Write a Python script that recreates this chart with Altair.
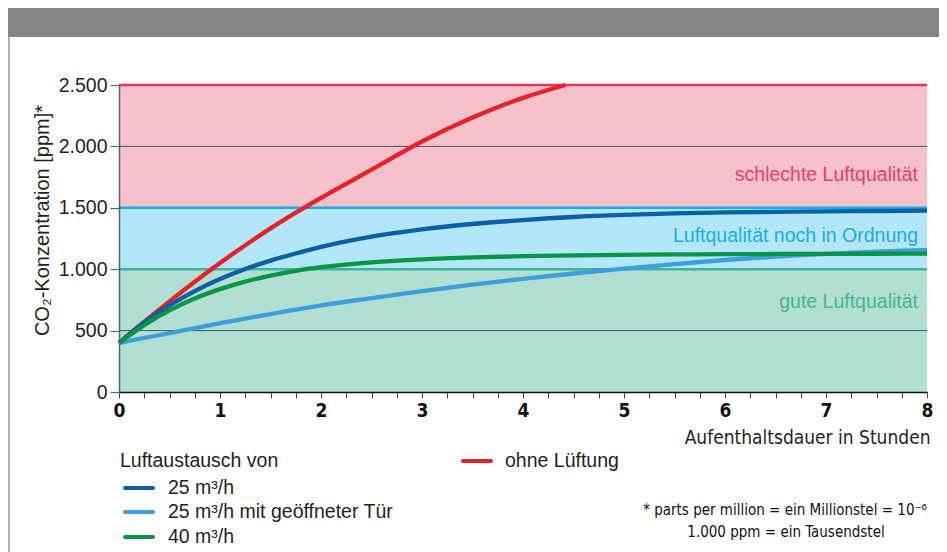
import altair as alt
import pandas as pd

# ---------------- data ----------------
hours = [0, 0.25, 0.5, 0.75, 1, 1.25, 1.5, 1.75, 2, 2.5, 3, 3.5, 4, 4.5, 5, 5.5, 6, 6.5, 7, 7.5, 8]
co2_25 = [400, 566, 705, 822, 920, 1002, 1070, 1128, 1182, 1266, 1325, 1368, 1400, 1425, 1442, 1454, 1462, 1467, 1471, 1474, 1477]
co2_25_door = [400, 440, 480, 521, 560, 598, 635, 670, 705, 765, 822, 874, 922, 965, 1005, 1042, 1075, 1102, 1124, 1142, 1157]
co2_40 = [400, 545, 665, 762, 838, 899, 948, 987, 1016, 1055, 1080, 1096, 1106, 1113, 1117, 1120, 1122, 1124, 1125, 1126, 1127]
hours_none = [0, 0.25, 0.5, 0.75, 1, 1.25, 1.5, 1.75, 2, 2.5, 3, 3.5, 4, 4.42]
co2_none = [400, 572, 738, 898, 1050, 1195, 1332, 1460, 1580, 1810, 2040, 2235, 2395, 2500]

series_names = ["25 m³/h", "25 m³/h mit geöffneter Tür", "40 m³/h", "ohne Lüftung"]
series_colors = ["#0b5ea8", "#3d9fdb", "#0a9445", "#e32329"]

band_lo = [0, 1000, 1500]
band_hi = [1000, 1500, 2500]
band_fill = ["#b2dfd3", "#b3e6f8", "#f6c1ca"]
band_line = ["#3fb497", "#12aee8", "#e5355c"]
band_text_color = ["#45b596", "#1aaee6", "#e8406a"]
band_labels = ["gute Luftqualität", "Luftqualität noch in Ordnung", "schlechte Luftqualität"]
grid_values = [500, 2000]
y_ticks = [0, 500, 1000, 1500, 2000, 2500]
x_ticks = [i * 0.25 for i in range(33)]

legend_title = "Luftaustausch von"
footnote_1 = "* parts per million = ein Millionstel = 10⁻⁶"
footnote_2 = "1.000 ppm = ein Tausendstel"

REG = "Liberation Sans, Arial, Helvetica, sans-serif"
COND = "Liberation Sans Narrow, Arial Narrow, DejaVu Sans Condensed, sans-serif"

W, H = 808, 307

xs = alt.Scale(domain=[hours[0], hours[-1]], nice=False, zero=False)
ys = alt.Scale(domain=[y_ticks[0], y_ticks[-1]], nice=False)

x_axis = alt.Axis(
    values=x_ticks,
    labelExpr="datum.value % 1 == 0 ? format(datum.value, 'd') : ''",
    title="Aufenthaltsdauer in Stunden",
    titleX=811, titleY=45, titleAlign="right", titleBaseline="middle", titleAnchor="end",
    titleFont=COND, titleFontSize=19, titleFontWeight="normal", titleColor="#231f20",
    grid=False, domainColor="#111111", domainWidth=1.6,
    tickColor="#3a4a58", tickSize=6, tickWidth=1,
    labelFont=COND, labelFontWeight="bold", labelFontSize=19, labelColor="#111111",
    labelPadding=3, labelFlush=False, zindex=1,
)
y_axis = alt.Axis(
    values=y_ticks,
    labelExpr="replace(format(datum.value, ','), ',', '.')",
    title="CO₂-Konzentration [ppm]*",
    titleX=-77, titleY=135, titleAngle=270, titleAlign="center", titleBaseline="middle",
    titleFont=REG, titleFontSize=20, titleFontWeight="normal", titleColor="#231f20",
    grid=False, domainColor="#4b687b", domainWidth=1.5,
    tickColor="#4b687b", tickSize=9, tickWidth=1.2,
    labelFont=REG, labelFontSize=19.5, labelColor="#231f20", labelPadding=3, zindex=1,
)

one = alt.Data(values=[{}])

# ---------------- decorations ----------------
header = alt.Chart(one).mark_rect(color="#858585").encode(
    x=alt.value(-111), x2=alt.value(W + 20), y=alt.value(-77), y2=alt.value(-48)
)
left_border = alt.Chart(one).mark_rule(color="#9a9a9a", strokeWidth=1.5).encode(
    x=alt.value(-110), y=alt.value(-48), y2=alt.value(470)
)

# ---------------- bands ----------------
bands_df = pd.DataFrame({
    "lo": band_lo, "hi": band_hi, "fill": band_fill,
    "x0": [hours[0]] * 3, "x1": [hours[-1]] * 3,
})
bands = alt.Chart(bands_df).mark_rect().encode(
    x=alt.X("x0:Q", scale=xs, axis=x_axis),
    x2="x1:Q",
    y=alt.Y("lo:Q", scale=ys, axis=y_axis),
    y2="hi:Q",
    color=alt.Color("fill:N", scale=None),
)

grid_df = pd.DataFrame({"v": grid_values})
grid = alt.Chart(grid_df).mark_rule(color="#3e5466", strokeWidth=1).encode(
    y=alt.Y("v:Q", scale=ys, axis=y_axis)
)

edges_df = pd.DataFrame({"v": band_hi, "c": band_line})
edges = alt.Chart(edges_df).mark_rule(strokeWidth=2.5).encode(
    y=alt.Y("v:Q", scale=ys, axis=y_axis),
    color=alt.Color("c:N", scale=None),
)

band_text_layers = []
for label, col, ypix in zip(band_labels, band_text_color, [217, 151, 90]):
    band_text_layers.append(
        alt.Chart(one).mark_text(
            text=label, color=col, font=REG, fontSize=19.5, align="right", baseline="middle"
        ).encode(x=alt.value(799), y=alt.value(ypix))
    )

# ---------------- curves ----------------
curve_data = {
    series_names[0]: (hours, co2_25),
    series_names[1]: (hours, co2_25_door),
    series_names[2]: (hours, co2_40),
    series_names[3]: (hours_none, co2_none),
}
draw_order = [1, 3, 0, 2]
curve_layers = []
for i in draw_order:
    name = series_names[i]
    tt, vv = curve_data[name]
    df = pd.DataFrame({"t": tt, "v": vv, "s": name})
    curve_layers.append(
        alt.Chart(df).mark_line(color=series_colors[i], strokeWidth=4.3, interpolate="monotone",
                                strokeCap="butt").encode(
            x=alt.X("t:Q", scale=xs, axis=x_axis),
            y=alt.Y("v:Q", scale=ys, axis=y_axis),
        )
    )

# ---------------- legend ----------------
legend_layers = [
    alt.Chart(one).mark_text(text=legend_title, font=REG, fontSize=19.5, color="#231f20",
                             align="left", baseline="middle").encode(x=alt.value(1), y=alt.value(376))
]
for i, ypix in zip([0, 1, 2], [403, 427, 452]):
    legend_layers.append(
        alt.Chart(one).mark_rule(color=series_colors[i], strokeWidth=4, strokeCap="round").encode(
            x=alt.value(6), x2=alt.value(34), y=alt.value(ypix))
    )
    legend_layers.append(
        alt.Chart(one).mark_text(text=series_names[i], font=REG, fontSize=19.5, color="#231f20",
                                 align="left", baseline="middle").encode(x=alt.value(49), y=alt.value(ypix))
    )
legend_layers.append(
    alt.Chart(one).mark_rule(color=series_colors[3], strokeWidth=4, strokeCap="round").encode(
        x=alt.value(344), x2=alt.value(372), y=alt.value(376))
)
legend_layers.append(
    alt.Chart(one).mark_text(text=series_names[3], font=REG, fontSize=19.5, color="#231f20",
                             align="left", baseline="middle").encode(x=alt.value(386), y=alt.value(376))
)
legend_layers.append(
    alt.Chart(one).mark_text(text=footnote_1, font=COND, fontSize=15, color="#111111",
                             align="right", baseline="middle").encode(x=alt.value(808), y=alt.value(425))
)
legend_layers.append(
    alt.Chart(one).mark_text(text=footnote_2, font=COND, fontSize=15, color="#111111",
                             align="center", baseline="middle").encode(x=alt.value(667), y=alt.value(447))
)

chart = alt.layer(
    header, left_border, bands, grid, edges, *band_text_layers, *curve_layers, *legend_layers
).properties(
    width=W, height=H,
    padding={"left": 111, "top": 77, "right": 12, "bottom": 160},
    autosize=alt.AutoSizeParams(type="none"),
    background="white",
).configure_view(stroke=None)

chart.save("out.html", embed_options={"renderer": "svg", "actions": False})
